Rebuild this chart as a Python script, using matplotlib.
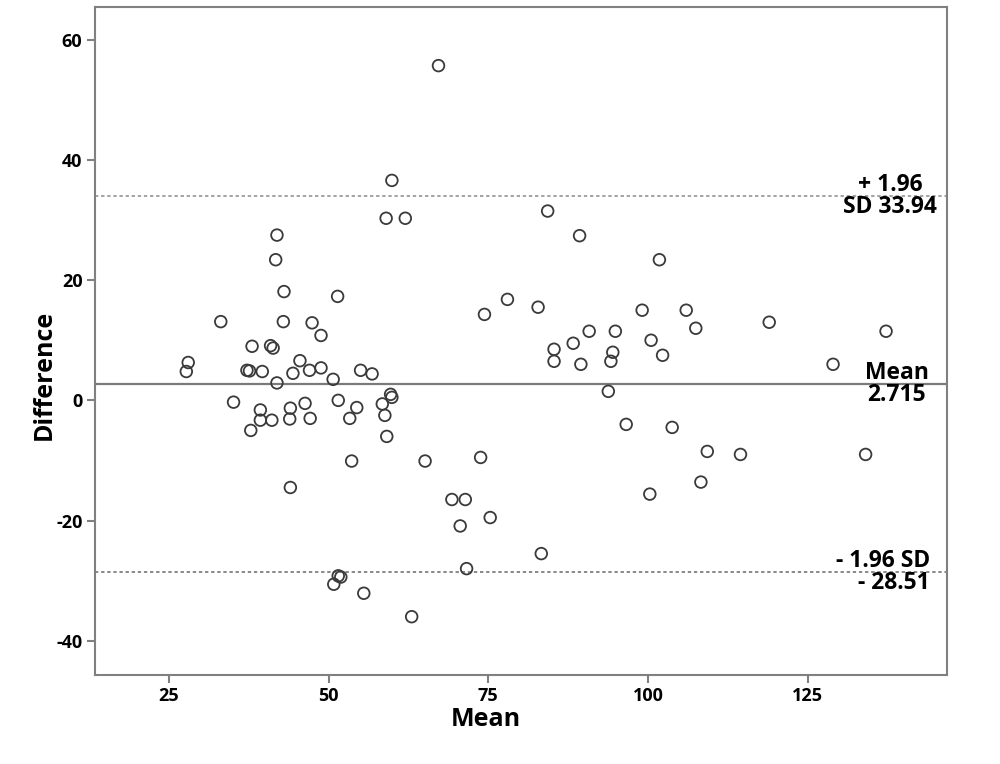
import matplotlib
matplotlib.use("Agg")
import matplotlib.pyplot as plt

plt.rcParams['font.family'] = ['Open Sans', 'DejaVu Sans']
plt.rcParams['axes.unicode_minus'] = False

# Bland-Altman data
mean_vals = [67.2, 59.9, 59.0, 62.0, 84.3, 89.3, 41.9, 41.7, 101.8, 43.0,
             51.4, 78.0, 82.8, 74.4, 99.1, 106.0, 119.0, 33.1, 42.9, 47.4,
             48.8, 107.5, 137.3, 90.8, 94.9, 88.3, 100.5, 28.0, 27.7, 38.0,
             40.9, 41.3, 85.3, 94.5, 102.3, 85.3, 89.5, 94.2, 129.0, 45.5,
             37.2, 37.6, 39.6, 44.4, 47.0, 48.8, 55.0, 56.8, 41.9, 50.7,
             59.7, 59.9, 35.1, 46.3, 51.5, 58.4, 93.8, 39.3, 44.0, 54.4,
             37.8, 39.3, 41.1, 43.9, 47.1, 53.3, 58.8, 59.1, 96.6, 103.8,
             109.3, 114.5, 134.1, 73.8, 53.6, 65.1, 44.0, 100.3, 108.3, 69.3,
             71.4, 75.3, 70.6, 83.3, 71.6, 51.5, 51.9, 50.8, 55.5, 63.0]
diff_vals = [55.7, 36.6, 30.3, 30.3, 31.5, 27.4, 27.5, 23.4, 23.4, 18.1,
             17.3, 16.8, 15.5, 14.3, 15.0, 15.0, 13.0, 13.1, 13.1, 12.9,
             10.8, 12.0, 11.5, 11.5, 11.5, 9.5, 10.0, 6.3, 4.8, 9.0,
             9.1, 8.7, 8.5, 8.0, 7.5, 6.5, 6.0, 6.5, 6.0, 6.6,
             5.0, 4.9, 4.8, 4.5, 5.0, 5.4, 5.0, 4.4, 2.9, 3.5,
             1.0, 0.5, -0.3, -0.5, 0.0, -0.6, 1.5, -1.6, -1.3, -1.2,
             -5.0, -3.3, -3.3, -3.1, -3.0, -3.0, -2.5, -6.0, -4.0, -4.5,
             -8.5, -9.0, -9.0, -9.5, -10.1, -10.1, -14.5, -15.6, -13.6, -16.5,
             -16.5, -19.5, -20.9, -25.5, -28.0, -29.2, -29.4, -30.6, -32.1, -36.0]

mean_diff = 2.715
upper_loa = 33.94
lower_loa = -28.51

x_ticks = [25, 50, 75, 100, 125]
y_ticks = [-40, -20, 0, 20, 40, 60]

fig = plt.figure(figsize=(10, 7.64), dpi=100)
ax = fig.add_axes([0.095, 0.1165, 0.8517, 0.8747])

ax.scatter(mean_vals, diff_vals, s=70, facecolors='none', edgecolors='#3a3a3a',
           linewidths=1.3, zorder=3)

ax.axhline(mean_diff, color='#7a7a7a', lw=1.6, zorder=2)
ax.axhline(upper_loa, color='#8a8a8a', lw=1.1, linestyle=(0, (2.2, 1.8)), zorder=2)
ax.axhline(lower_loa, color='#6a6a6a', lw=1.1, linestyle=(0, (2.2, 1.8)), zorder=2)

ax.set_xlim(13.4, 146.8)
ax.set_ylim(-45.7, 65.5)
ax.set_xticks(x_ticks)
ax.set_yticks(y_ticks)

for s in ax.spines.values():
    s.set_color('#808080')
    s.set_linewidth(1.5)
ax.tick_params(direction='out', length=6, width=1.5, color='#808080',
               labelsize=13, pad=3)
for lab in ax.get_xticklabels() + ax.get_yticklabels():
    lab.set_fontweight('bold')

ax.set_xlabel('Mean', fontsize=18, fontweight='bold')
ax.xaxis.set_label_coords(0.459, -0.048)
ax.set_ylabel('Difference', fontsize=18, fontweight='bold')
ax.yaxis.set_label_coords(-0.045, 0.449)

ax.text(137.9, upper_loa, '+ 1.96\nSD 33.94', ha='center', va='center',
        fontsize=16.5, fontweight='bold', linespacing=0.9, zorder=4)
ax.text(139.0, mean_diff, 'Mean\n2.715', ha='center', va='center',
        fontsize=16.5, fontweight='bold', linespacing=0.9, zorder=4)
ax.text(144.2, lower_loa, '- 1.96 SD\n- 28.51', ha='right', va='center',
        multialignment='right', fontsize=16.5, fontweight='bold',
        linespacing=0.9, zorder=4)

fig.savefig('out.png', dpi=100, facecolor='white')
